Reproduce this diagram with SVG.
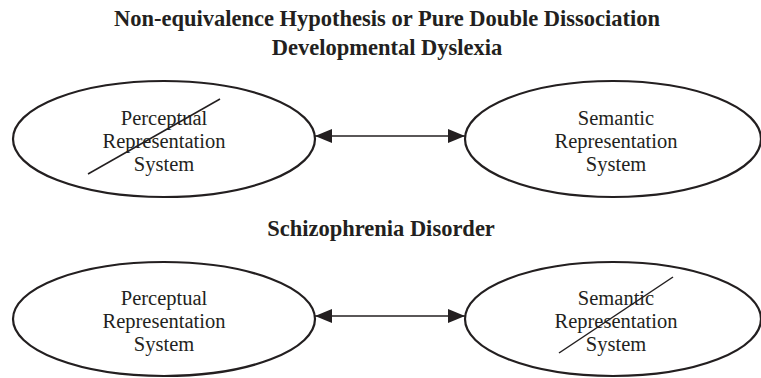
<svg xmlns="http://www.w3.org/2000/svg" width="761" height="378" viewBox="0 0 761 378">
<style>
.title{font-family:"Liberation Serif",serif;font-weight:bold;font-size:22.5px;fill:#231f20;text-anchor:middle}
.lbl{font-family:"Liberation Serif",serif;font-size:20.5px;fill:#231f20;text-anchor:middle}
.node{fill:#fff;stroke:#231f20;stroke-width:2.2}
.strike{stroke:#231f20;stroke-width:1.5}
.conn{stroke:#231f20;stroke-width:1.5;fill:none}
</style>
<defs>
<marker id="ah" viewBox="0 0 17 14" refX="17" refY="7" markerWidth="17" markerHeight="14" markerUnits="userSpaceOnUse" orient="auto-start-reverse">
<path d="M0,0 L17,7 L0,14 Z" fill="#231f20"/>
</marker>
</defs>
<rect width="761" height="378" fill="#fff"/>
<text class="title" x="387" y="26">Non-equivalence Hypothesis or Pure Double Dissociation</text>
<text class="title" x="387" y="55">Developmental Dyslexia</text>
<text class="title" x="381" y="236">Schizophrenia Disorder</text>
<g id="connectors">
<line class="conn" x1="315" y1="136" x2="465" y2="136" marker-start="url(#ah)" marker-end="url(#ah)"/>
<line class="conn" x1="315" y1="316" x2="465" y2="316" marker-start="url(#ah)" marker-end="url(#ah)"/>
</g>
<g id="dd-perceptual">
<ellipse class="node" cx="164" cy="139" rx="151" ry="58"/>
<text class="lbl" x="164" y="125">Perceptual</text>
<text class="lbl" x="164" y="148">Representation</text>
<text class="lbl" x="164" y="171">System</text>
<line class="strike" x1="88" y1="174" x2="220" y2="99"/>
</g>
<g id="dd-semantic">
<ellipse class="node" cx="613" cy="139" rx="148" ry="58"/>
<text class="lbl" x="616" y="125">Semantic</text>
<text class="lbl" x="616" y="148">Representation</text>
<text class="lbl" x="616" y="171">System</text>
</g>
<g id="sz-perceptual">
<ellipse class="node" cx="164" cy="319" rx="151" ry="57"/>
<text class="lbl" x="164" y="305">Perceptual</text>
<text class="lbl" x="164" y="328">Representation</text>
<text class="lbl" x="164" y="351">System</text>
</g>
<g id="sz-semantic">
<ellipse class="node" cx="613" cy="319" rx="148" ry="57"/>
<text class="lbl" x="616" y="305">Semantic</text>
<text class="lbl" x="616" y="328">Representation</text>
<text class="lbl" x="616" y="351">System</text>
<line class="strike" x1="559" y1="353" x2="673" y2="277"/>
</g>
</svg>
